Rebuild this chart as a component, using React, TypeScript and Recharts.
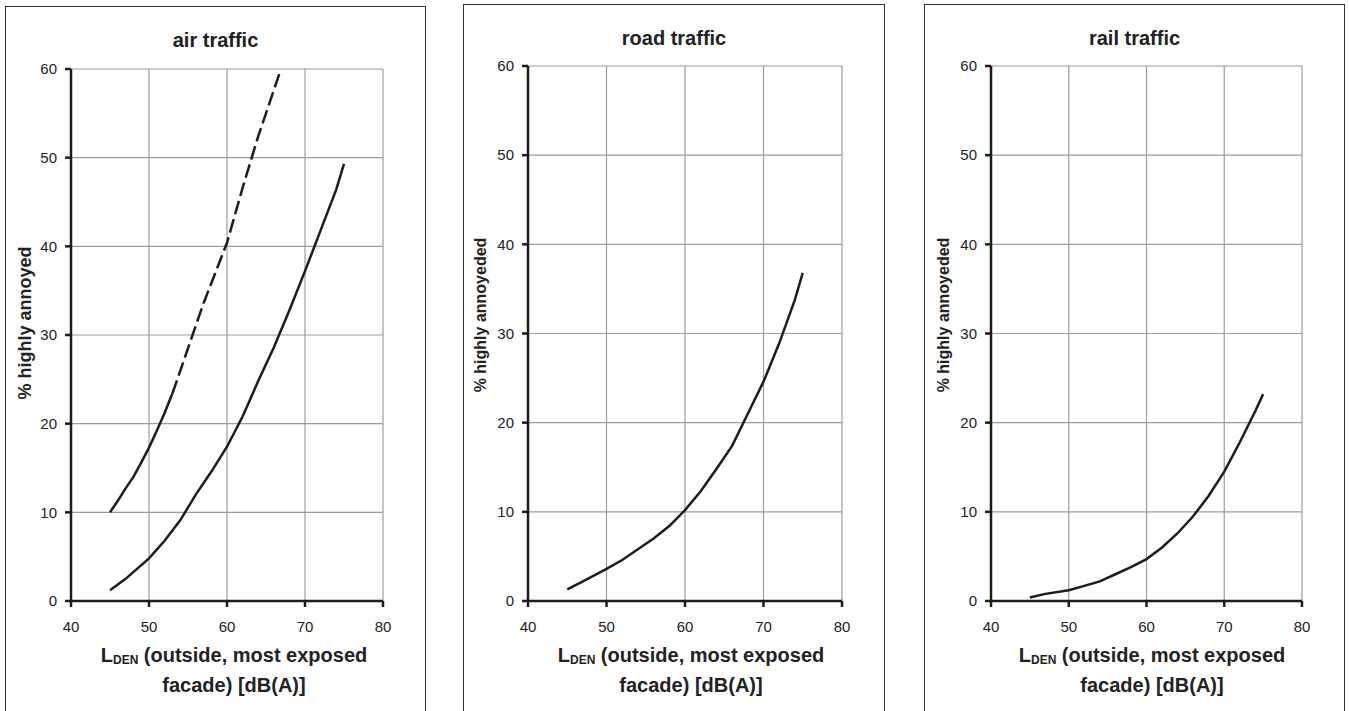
import React from 'react';
import { LineChart, Line, XAxis, YAxis, CartesianGrid } from 'recharts';

// air traffic: upper curve (solid start, dashed continuation) and lower curve
const airUpperSolidLevels = [45, 46, 47, 48, 49, 50, 51, 52, 53];
const airUpperSolidValues = [10.0, 11.3, 12.7, 14.0, 15.6, 17.3, 19.2, 21.2, 23.4];
const airUpperDashedLevels = [53, 55, 57, 60, 62, 64, 66.8];
const airUpperDashedValues = [23.4, 28.5, 33.6, 40.4, 46.6, 52.4, 59.7];

const airLevels = [45, 47, 50, 52, 54, 56, 58, 60, 62, 64, 66, 68, 70, 72, 74, 75];
const airValues = [1.2, 2.5, 4.8, 6.8, 9.1, 12.0, 14.6, 17.4, 20.8, 24.8, 28.6, 32.8, 37.2, 41.8, 46.4, 49.3];

const roadLevels = [45, 47, 50, 52, 54, 56, 58, 60, 62, 64, 66, 68, 70, 72, 74, 75];
const roadValues = [1.3, 2.2, 3.6, 4.6, 5.8, 7.0, 8.4, 10.2, 12.3, 14.8, 17.4, 21.0, 24.6, 28.9, 33.8, 36.8];

const railLevels = [45, 47, 50, 52, 54, 56, 58, 60, 62, 64, 66, 68, 70, 72, 74, 75];
const railValues = [0.4, 0.8, 1.2, 1.7, 2.2, 3.0, 3.8, 4.7, 6.0, 7.6, 9.5, 11.8, 14.5, 17.8, 21.3, 23.2];

const xTicks = [40, 50, 60, 70, 80];
const yTicks = [0, 10, 20, 30, 40, 50, 60];

const toPoints = (xs: number[], ys: number[]) => xs.map((x, i) => ({ x, y: ys[i] }));

const FONT = '"Liberation Sans", Arial, sans-serif';
const INK = '#1c1c1c';

interface PanelProps {
  left: number;
  top: number;
  width: number;
  plotLeft: number;
  plotRight: number;
  plotTop: number;
  title: string;
  titleY: number;
  yLabel: string;
  yLabelX: number;
  yLabelY: number;
  yLabelSize: number;
  xLabelX: number;
  series: { data: { x: number; y: number }[]; dashed?: boolean }[];
}

const Panel = (p: PanelProps) => {
  const chartW = p.width + 10;
  const chartLeft = p.left - 5;
  return (
    <>
      <div style={{
        position: 'absolute',
        left: p.left,
        top: p.top,
        width: p.width,
        height: 760,
        border: '1px solid #333',
        boxSizing: 'border-box'
      }} />
      <div style={{ position: 'absolute', left: chartLeft, top: 0 }}>
        <LineChart
          width={chartW}
          height={711}
          margin={{ top: p.plotTop, right: chartW - (p.plotRight - chartLeft), left: p.plotLeft - chartLeft - 50, bottom: 70 }}
        >
          <CartesianGrid stroke="#9c9c9c" strokeWidth={1.2} />
          <XAxis
            type="number"
            dataKey="x"
            domain={[40, 80]}
            ticks={xTicks}
            height={40}
            axisLine={{ stroke: INK, strokeWidth: 2.5 }}
            tickLine={{ stroke: INK, strokeWidth: 2.5 }}
            tickSize={6}
            tickMargin={14}
            tick={{ fontSize: 15, fill: '#222', fontFamily: FONT }}
            allowDataOverflow
          />
          <YAxis
            type="number"
            domain={[0, 60]}
            ticks={yTicks}
            width={50}
            axisLine={{ stroke: INK, strokeWidth: 2.5 }}
            tickLine={{ stroke: INK, strokeWidth: 2.5 }}
            tickSize={6}
            tickMargin={8}
            tick={{ fontSize: 15, fill: '#222', fontFamily: FONT }}
          />
          {p.series.map((s, i) => (
            <Line
              key={i}
              data={s.data}
              dataKey="y"
              type="linear"
              stroke={INK}
              strokeWidth={2.5}
              strokeDasharray={s.dashed ? '14 5' : undefined}
              dot={false}
              activeDot={false}
              isAnimationActive={false}
            />
          ))}
        </LineChart>
      </div>
      <div style={{
        position: 'absolute',
        left: p.left,
        width: p.width,
        top: p.titleY - 12,
        lineHeight: '24px',
        textAlign: 'center',
        fontFamily: FONT,
        fontWeight: 'bold',
        fontSize: 20,
        color: '#222'
      }}>{p.title}</div>
      <div style={{
        position: 'absolute',
        left: p.yLabelX - 150,
        top: p.yLabelY - 12,
        width: 300,
        lineHeight: '24px',
        textAlign: 'center',
        transform: 'rotate(-90deg)',
        fontFamily: FONT,
        fontWeight: 'bold',
        fontSize: p.yLabelSize,
        color: '#222'
      }}>{p.yLabel}</div>
      <div style={{
        position: 'absolute',
        left: p.xLabelX - 200,
        top: 640,
        width: 400,
        lineHeight: '30px',
        textAlign: 'center',
        fontFamily: FONT,
        fontWeight: 'bold',
        fontSize: 20,
        color: '#222'
      }}>
        L<span style={{ fontSize: 12, lineHeight: 0, position: 'relative', top: 2 }}>DEN</span> (outside, most exposed<br />facade) [dB(A)]
      </div>
    </>
  );
};

export default function App() {
  return (
    <div style={{ position: 'absolute', left: 0, top: 0, width: 1349, height: 711, overflow: 'hidden', background: '#fff' }}>
      <Panel
        left={5} top={6} width={421}
        plotLeft={71} plotRight={383} plotTop={69}
        title="air traffic" titleY={40}
        yLabel="% highly annoyed" yLabelX={25} yLabelY={323} yLabelSize={18}
        xLabelX={234}
        series={[
          { data: toPoints(airUpperSolidLevels, airUpperSolidValues) },
          { data: toPoints(airUpperDashedLevels, airUpperDashedValues), dashed: true },
          { data: toPoints(airLevels, airValues) }
        ]}
      />
      <Panel
        left={463} top={4} width={422}
        plotLeft={528} plotRight={842} plotTop={66}
        title="road traffic" titleY={38}
        yLabel="% highly annoyeded" yLabelX={481} yLabelY={315} yLabelSize={16}
        xLabelX={691}
        series={[{ data: toPoints(roadLevels, roadValues) }]}
      />
      <Panel
        left={924} top={4} width={421}
        plotLeft={991} plotRight={1302} plotTop={66}
        title="rail traffic" titleY={38}
        yLabel="% highly annoyeded" yLabelX={944} yLabelY={315} yLabelSize={16}
        xLabelX={1152}
        series={[{ data: toPoints(railLevels, railValues) }]}
      />
    </div>
  );
}
